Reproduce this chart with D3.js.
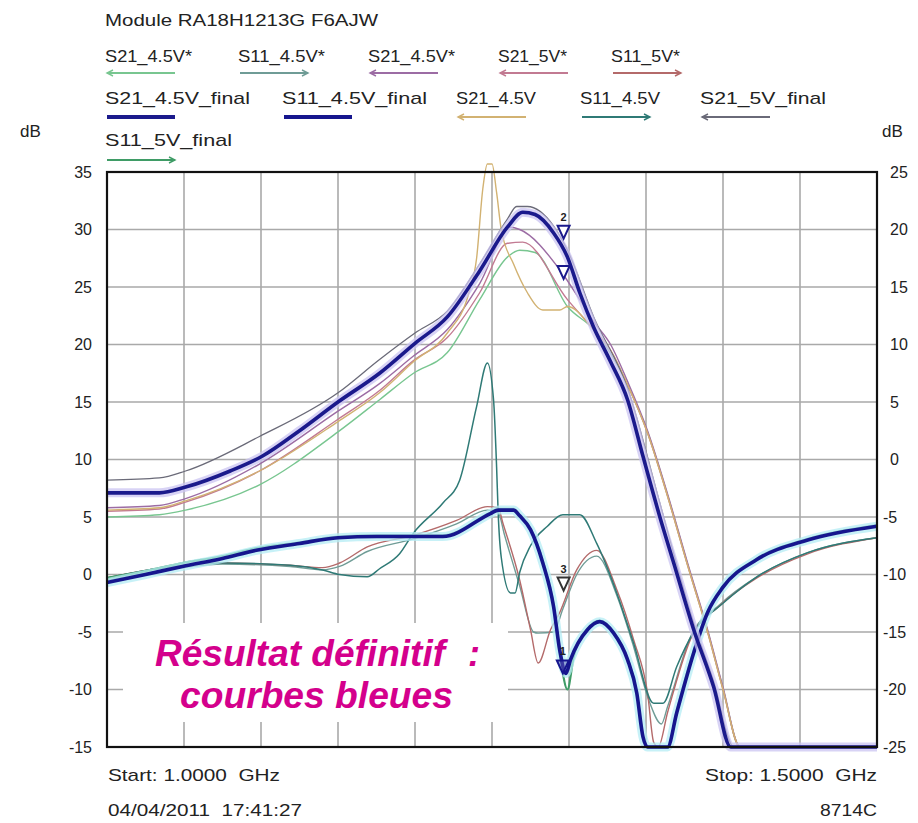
<!DOCTYPE html>
<html><head><meta charset="utf-8">
<script src="https://cdn.jsdelivr.net/npm/d3@7/dist/d3.min.js"></script>
<style>body{margin:0;background:#fff}svg{display:block}</style>
</head><body><svg id="c" width="918" height="823"></svg>
<script>
// ---------------- DATA ----------------
const chartTitle = "Module RA18H1213G F6AJW";
const seriesNames = ["S21_4.5V*","S11_4.5V*","S21_4.5V*","S21_5V*","S11_5V*",
  "S21_4.5V_final","S11_4.5V_final","S21_4.5V","S11_4.5V","S21_5V_final","S11_5V_final"];
const leftTicks = [35,30,25,20,15,10,5,0,-5,-10,-15];
const rightTicks = [25,20,15,10,5,0,-5,-10,-15,-20,-25];
const freqTicks = [1.00,1.05,1.10,1.15,1.20,1.25,1.30,1.35,1.40,1.45,1.50];

// S21_4.5V* (green)
const fS21a = [1.000,1.034,1.051,1.099,1.150,1.177,1.199,1.221,1.242,1.260,1.268,1.278,1.299,1.316,1.338,1.351,1.364,1.377,1.390,1.400,1.411,1.500];
const dS21a = [5.0,5.2,5.6,7.8,12.4,15.2,17.5,19.3,23.9,27.6,28.2,28.0,23.3,21.3,16.5,12.4,6.9,0.9,-4.9,-9.9,-15,-15];
// S11_4.5V* (grey-teal)
const fS11a = [1.000,1.049,1.075,1.119,1.140,1.151,1.169,1.199,1.227,1.247,1.254,1.258,1.268,1.277,1.280,1.290,1.296,1.305,1.318,1.331,1.342,1.352,1.360,1.364,1.379,1.398,1.422,1.455,1.500];
const dS11a = [-10.5,-9.4,-9.1,-9.3,-9.6,-9.3,-8.0,-6.9,-5.6,-4.4,-4.6,-6.5,-11.0,-15.0,-15.1,-15.0,-13.0,-10.0,-8.4,-11.8,-16.3,-21.0,-23.0,-21.5,-15.4,-12.6,-10.2,-8.1,-6.8];
// S21_4.5V* (mauve)
const fS21b = [1.000,1.034,1.051,1.099,1.150,1.177,1.199,1.221,1.242,1.262,1.268,1.294,1.307,1.316,1.327,1.338,1.351,1.364,1.377,1.390,1.400,1.411,1.500];
const dS21b = [5.8,6.0,6.6,9.6,14.2,16.6,19.0,21.3,25.3,30.2,30.0,26.5,23.9,22.0,20.0,16.8,12.5,7.0,1.0,-4.8,-9.8,-15,-15];
// S21_5V* (pink)
const fS21c = [1.000,1.034,1.051,1.099,1.150,1.177,1.199,1.221,1.242,1.260,1.270,1.299,1.316,1.327,1.338,1.351,1.364,1.377,1.390,1.400,1.411,1.500];
const dS21c = [5.5,5.7,6.3,9.0,13.5,16.0,18.6,20.6,24.5,28.8,28.9,23.9,21.3,19.5,16.5,12.3,6.8,0.8,-5.0,-10.0,-15,-15];
// S11_5V* (rose)
const fS11b = [1.000,1.049,1.075,1.119,1.140,1.151,1.169,1.199,1.227,1.247,1.254,1.257,1.268,1.275,1.280,1.288,1.294,1.305,1.318,1.331,1.342,1.351,1.355,1.358,1.364,1.379,1.398,1.422,1.455,1.500];
const dS11b = [-10.3,-9.2,-9.0,-9.2,-9.4,-9.0,-7.6,-6.6,-5.3,-4.1,-4.2,-5.5,-10.5,-14.8,-17.7,-14.8,-13.3,-9.6,-7.9,-11.3,-15.7,-20.3,-24.6,-25,-22,-15.6,-12.7,-10.3,-8.2,-6.8];
// S21_4.5V_final (navy, thick)
const fS21fin = [1.000,1.034,1.051,1.080,1.101,1.125,1.150,1.177,1.200,1.221,1.242,1.260,1.270,1.278,1.290,1.299,1.307,1.316,1.327,1.338,1.348,1.359,1.368,1.381,1.394,1.405,1.500];
const dS21fin = [7.1,7.1,7.6,9.0,10.3,12.5,15.0,17.5,20.1,22.4,26.4,30.2,31.5,31.3,29.7,27.6,24.5,21.5,18.5,15.2,10.3,5.0,1.0,-4.8,-9.8,-15,-15];
// S11_4.5V_final (navy, thick)
const fS11fin = [1.000,1.025,1.049,1.075,1.097,1.125,1.150,1.175,1.200,1.218,1.249,1.254,1.264,1.268,1.275,1.283,1.290,1.294,1.298,1.301,1.312,1.320,1.329,1.338,1.344,1.348,1.351,1.364,1.370,1.381,1.390,1.400,1.422,1.455,1.500];
const dS11fin = [-10.7,-10.0,-9.3,-8.6,-7.9,-7.3,-6.8,-6.7,-6.7,-6.7,-4.7,-4.4,-4.4,-4.9,-6.1,-9.0,-12.8,-16.6,-18.6,-17.4,-14.8,-14.1,-15.1,-17.4,-20.3,-24.1,-25,-25,-22,-16.8,-13.3,-11.1,-8.7,-7.0,-5.8];
// S21_4.5V (tan)
const fS21d = [1.000,1.034,1.051,1.099,1.150,1.177,1.199,1.221,1.235,1.240,1.244,1.247,1.250,1.253,1.256,1.264,1.273,1.283,1.294,1.299,1.316,1.327,1.338,1.351,1.364,1.377,1.390,1.400,1.411,1.500];
const dS21d = [5.6,5.8,6.4,9.0,13.3,15.8,18.5,21.0,24.5,27.5,33.5,35.7,35.7,33.2,30.0,27.0,24.5,23.0,23.0,23.3,21.3,19.5,16.5,12.3,6.8,0.8,-5.0,-10.0,-15,-15];
// S11_4.5V (teal)
const fS11c = [1.000,1.049,1.075,1.119,1.140,1.151,1.169,1.177,1.190,1.199,1.218,1.229,1.240,1.247,1.251,1.253,1.254,1.256,1.262,1.265,1.268,1.275,1.286,1.296,1.307,1.318,1.331,1.342,1.355,1.361,1.370,1.381,1.400,1.422,1.455,1.500];
const dS11c = [-10.3,-9.2,-9.0,-9.2,-9.6,-10.0,-10.2,-9.5,-8.2,-6.4,-3.8,-1.8,4.6,8.4,5.2,-0.7,-4.6,-8.5,-11.6,-11.6,-9.8,-7.5,-5.8,-4.8,-4.8,-7.3,-11.6,-16.0,-21.2,-21.2,-18.0,-15.0,-12.5,-10.2,-8.1,-6.8];
// S21_5V_final (grey)
const fS21e = [1.000,1.034,1.051,1.099,1.150,1.177,1.200,1.221,1.242,1.260,1.266,1.273,1.290,1.299,1.316,1.338,1.359,1.368,1.381,1.394,1.407,1.500];
const dS21e = [8.2,8.4,9.0,12.0,15.8,18.7,21.0,22.9,27.0,30.9,32.0,32.0,30.3,28.2,22.4,16.2,6.2,1.8,-4.2,-9.3,-15,-15];
// S11_5V_final (green)
const fS11d = [1.000,1.025,1.049,1.075,1.097,1.125,1.150,1.175,1.200,1.218,1.249,1.254,1.264,1.268,1.275,1.283,1.290,1.294,1.299,1.303,1.312,1.320,1.329,1.338,1.344,1.348,1.351,1.364,1.370,1.381,1.390,1.400,1.422,1.455,1.500];
const dS11d = [-10.3,-9.7,-9.0,-8.4,-7.7,-7.2,-6.7,-6.6,-6.6,-6.6,-4.6,-4.3,-4.3,-4.8,-6.0,-8.8,-12.6,-16.8,-20.0,-17.2,-14.7,-14.0,-15.0,-17.3,-20.2,-24.0,-25,-25,-21.8,-16.6,-13.2,-11.0,-8.6,-6.9,-5.7];

// markers
const markerFreq = [1.2965, 1.2965, 1.2965, 1.2960];
const markerDb = [29.2, 25.7, -11.4, -18.6];
const markerAxis = ["L","L","R","R"];
const markerLabel = ["2","","3","1"];

// ---------------- DRAW ----------------
const svg = d3.select("#c");
svg.append("rect").attr("width",918).attr("height",823).attr("fill","#fff");
const X0=107, X1=877, Y0=172, Y1=747;
const x = d3.scaleLinear().domain([1.0,1.5]).range([X0,X1]);
const yL = d3.scaleLinear().domain([-15,35]).range([Y1,Y0]);
const yR = d3.scaleLinear().domain([-25,25]).range([Y1,Y0]);
const FONT = "'Liberation Sans', Arial, sans-serif";

// grid
const grid = svg.append("g").attr("stroke","#a9a9a9").attr("stroke-width",1.6);
grid.selectAll(".v").data(freqTicks.slice(1,-1)).join("line")
  .attr("x1",d=>x(d)).attr("x2",d=>x(d)).attr("y1",Y0).attr("y2",Y1);
grid.selectAll(".h").data(leftTicks.slice(1,-1)).join("line")
  .attr("y1",d=>yL(d)).attr("y2",d=>yL(d)).attr("x1",X0).attr("x2",X1);

// axes labels
const axL = d3.axisLeft(yL).tickValues(leftTicks).tickSize(0).tickPadding(15).tickFormat(d=>String(d));
const gL = svg.append("g").attr("transform",`translate(${X0},0)`).call(axL);
gL.select(".domain").remove();
gL.selectAll("text").attr("font-family",FONT).attr("font-size",16).attr("fill","#222");
const axR = d3.axisRight(yR).tickValues(rightTicks).tickSize(0).tickPadding(13).tickFormat(d=>String(d));
const gR = svg.append("g").attr("transform",`translate(${X1},0)`).call(axR);
gR.select(".domain").remove();
gR.selectAll("text").attr("font-family",FONT).attr("font-size",16).attr("fill","#222")
  .attr("dx",d=>d<0?-7:0);

// series
const series = [
  {name:seriesNames[0], f:fS21a, d:dS21a, ax:"L", color:"#78c690", w:1.4, arrow:"L"},
  {name:seriesNames[1], f:fS11a, d:dS11a, ax:"R", color:"#6f9c96", w:1.4, arrow:"R"},
  {name:seriesNames[2], f:fS21b, d:dS21b, ax:"L", color:"#9c6ca4", w:1.4, arrow:"L"},
  {name:seriesNames[3], f:fS21c, d:dS21c, ax:"L", color:"#c27a92", w:1.4, arrow:"L"},
  {name:seriesNames[4], f:fS11b, d:dS11b, ax:"R", color:"#b46a6a", w:1.4, arrow:"R"},
  {name:seriesNames[5], f:fS21fin, d:dS21fin, ax:"L", color:"#1b1a8c", w:3.6, arrow:null, halo:"#cbc4f2"},
  {name:seriesNames[6], f:fS11fin, d:dS11fin, ax:"R", color:"#16168e", w:3.6, arrow:null, halo:"#b4ecf4"},
  {name:seriesNames[7], f:fS21d, d:dS21d, ax:"L", color:"#d2b272", w:1.4, arrow:"L"},
  {name:seriesNames[8], f:fS11c, d:dS11c, ax:"R", color:"#2f7a76", w:1.5, arrow:"R"},
  {name:seriesNames[9], f:fS21e, d:dS21e, ax:"L", color:"#6a6a78", w:1.3, arrow:"L"},
  {name:seriesNames[10], f:fS11d, d:dS11d, ax:"R", color:"#3f9c66", w:2.2, arrow:"R"}
];
const drawOrder = [0,2,3,7,9,1,4,8,10,6,5];
const plot = svg.append("g");
drawOrder.forEach(i=>{
  const s = series[i];
  const ys = s.ax==="L"?yL:yR;
  const pts = s.f.map((f,k)=>[f,s.d[k]]);
  const line = d3.line().x(p=>x(p[0])).y(p=>ys(p[1])).curve(d3.curveMonotoneX);
  if(s.halo){
    plot.append("path").attr("d",line(pts)).attr("fill","none").attr("stroke",s.halo)
      .attr("stroke-width",9).attr("stroke-opacity",0.75).attr("stroke-linejoin","round");
  }
  plot.append("path").attr("d",line(pts)).attr("fill","none").attr("stroke",s.color)
    .attr("stroke-width",s.w).attr("stroke-linejoin","round");
});

// markers
const mk = svg.append("g");
markerFreq.forEach((f,i)=>{
  const ys = markerAxis[i]==="L"?yL:yR;
  const mx = x(f), my = ys(markerDb[i]);
  mk.append("path").attr("d",`M${mx-6},${my-13}L${mx+6},${my-13}L${mx},${my}Z`)
    .attr("fill", i===3?"#5a5ab4":"#fff").attr("fill-opacity",i===3?0.5:1)
    .attr("stroke", markerAxis[i]==="L"?"#1b1a8c":(i===3?"#16168e":"#333")).attr("stroke-width",2);
  if(markerLabel[i]) mk.append("text").attr("x",mx).attr("y",my-18).attr("text-anchor","middle")
    .attr("font-family",FONT).attr("font-size",11).attr("font-weight","bold").attr("fill","#222").text(markerLabel[i]);
});

// frame
svg.append("rect").attr("x",X0).attr("y",Y0).attr("width",X1-X0).attr("height",Y1-Y0)
  .attr("fill","none").attr("stroke","#111").attr("stroke-width",2.2);

// annotation box
svg.append("rect").attr("x",123).attr("y",623).attr("width",385).attr("height",99).attr("fill","#fff");
const ann = svg.append("g").attr("font-family",FONT).attr("font-weight","bold").attr("font-style","italic")
  .attr("font-size",36).attr("fill","#d4008c");
ann.append("text").attr("x",155).attr("y",666).attr("textLength",290).attr("lengthAdjust","spacingAndGlyphs").text("Résultat définitif");
ann.append("text").attr("x",468).attr("y",666).text(":");
ann.append("text").attr("x",180).attr("y",708).attr("textLength",273).attr("lengthAdjust","spacingAndGlyphs").text("courbes bleues");

// title & legend
const txt = (sel,t,xx,yy,len,anchor)=>{
  const e = sel.append("text").attr("x",xx).attr("y",yy).attr("font-family",FONT).attr("font-size",17)
    .attr("fill","#222").attr("text-anchor",anchor||"start").text(t);
  if(len) e.attr("textLength",len).attr("lengthAdjust","spacingAndGlyphs");
  return e;
};
txt(svg,chartTitle,105,26,273);
const legX = [105,238,368,498,611,105,282,456,580,700,105];
const legRow = [0,0,0,0,0,1,1,1,1,1,2];
const legW = [87,87,87,69,69,145,145,80,80,126,127];
const rowTextY = [62,104,146], rowLineY = [73,117,160];
series.forEach((s,i)=>{
  txt(svg,s.name,legX[i],rowTextY[legRow[i]],legW[i]);
  const ly = rowLineY[legRow[i]], lx0 = legX[i]+2, lx1 = legX[i]+70;
  svg.append("line").attr("x1",lx0).attr("x2",lx1).attr("y1",ly).attr("y2",ly)
    .attr("stroke",s.color).attr("stroke-width",s.arrow?1.8:4);
  if(s.arrow==="L") svg.append("path").attr("d",`M${lx0+6},${ly-3}L${lx0},${ly}L${lx0+6},${ly+3}`).attr("fill","none").attr("stroke",s.color).attr("stroke-width",1.4);
  if(s.arrow==="R") svg.append("path").attr("d",`M${lx1-6},${ly-3}L${lx1},${ly}L${lx1-6},${ly+3}`).attr("fill","none").attr("stroke",s.color).attr("stroke-width",1.4);
});
txt(svg,"dB",20,137,null);
txt(svg,"dB",882,137,null);

// footer
txt(svg,"Start: 1.0000  GHz",108,781,172).attr("xml:space","preserve");
txt(svg,"04/04/2011  17:41:27",108,816,194).attr("xml:space","preserve");
txt(svg,"Stop: 1.5000  GHz",877,781,172,"end").attr("xml:space","preserve");
txt(svg,"8714C",877,816,57,"end");
</script></body></html>
